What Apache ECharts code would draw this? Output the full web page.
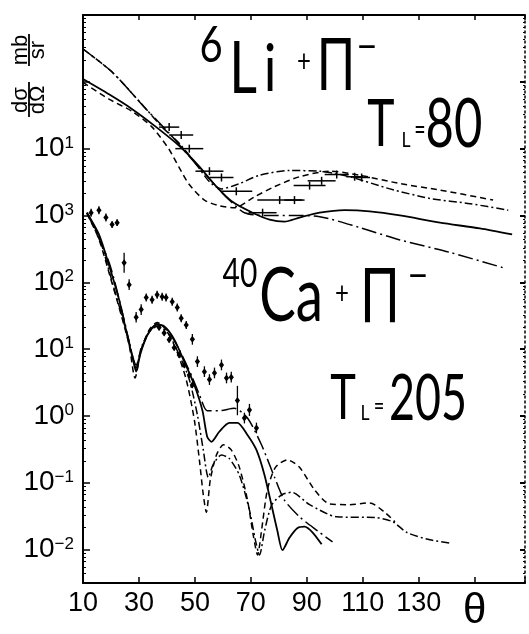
<!DOCTYPE html>
<html>
<head>
<meta charset="utf-8">
<script src="https://cdn.jsdelivr.net/npm/echarts@6/dist/echarts.min.js"></script>
<style>
  html, body { margin: 0; padding: 0; background: #fff; }
  #chart { width: 529px; height: 634px; }
</style>
</head>
<body>
<div id="chart"></div>
<script>
// the scan uses a tall, thin, condensed lettering
const FONT = 'Lato, "Liberation Sans", sans-serif'
const AXIS_FONT = '"Liberation Sans", Arial, sans-serif'

// axis ticks
const xTickLabels = [10, 30, 50, 70, 90, 110, 130]
const yTickExps = [4, 3, 2, 1, 0, -1, -2]
const yTickSup = ['1', '3', '2', '1', '0', '−1', '−2']  // as printed on the figure

// 6Li + pi-, T = 80  (theta, dsigma/dOmega)
const liSolid = [[10, 1.1e5], [19.3, 6.5e4], [27.6, 3.9e4], [36.2, 2.1e4], [44.4, 1.1e4], [51.6, 5.4e3], [57.7, 2.7e3], [63.4, 1.6e3], [70.6, 1.1e3], [76.7, 870], [82.0, 810], [87.4, 930], [94.6, 1.1e3], [103.5, 1.2e3], [112.5, 1.15e3], [123.3, 1.0e3], [137.6, 780], [151.9, 640], [163.4, 520]]
const liDash = [[10, 9.8e4], [19.3, 5.5e4], [27.6, 3.6e4], [34.7, 2.1e4], [40.8, 9.7e3], [44.4, 5.2e3], [48.0, 2.9e3], [53.4, 1.7e3], [58.7, 1.4e3], [64.1, 1.3e3], [71.3, 1.9e3], [78.5, 2.7e3], [87.4, 3.8e3], [98.2, 4.6e3], [108.9, 4.0e3], [123.3, 3.0e3], [137.6, 2.4e3], [156.6, 1.7e3]]
const liDashDot = [[10, 3.1e5], [20.4, 1.4e5], [32.6, 3.9e4], [38.3, 2.1e4], [44.4, 1.2e4], [50.5, 5.8e3], [55.2, 3.2e3], [59.5, 2.5e3], [65.9, 3.0e3], [73.1, 4.0e3], [83.8, 4.7e3], [94.6, 4.6e3], [105.3, 3.8e3], [119.7, 2.5e3], [134.0, 1.8e3], [148.4, 1.5e3], [162.0, 1.2e3]]
const liLongDashDot = [[10, 3.1e5], [20.4, 1.4e5], [32.6, 3.9e4], [40.8, 1.7e4], [50.5, 5.8e3], [57.0, 2.9e3], [62.3, 1.7e3], [67.7, 1.1e3], [74.9, 1.0e3], [83.8, 1.0e3], [94.6, 960], [108.9, 660], [123.3, 430], [141.2, 280], [160.2, 165]]
// data: theta, value, half width in degrees
const liPoints = [[40.8, 2.1e4, 3.6], [45.1, 1.6e4, 4.3], [48.0, 1.0e4, 5], [55.2, 4.6e3, 5], [59.5, 3.7e3, 4.3], [64.8, 2.3e3, 5.7], [74.2, 1.1e3, 5], [80.3, 1.7e3, 8], [85.6, 1.7e3, 3.6], [91.0, 2.8e3, 5.7], [95.3, 3.3e3, 5], [100.7, 4.1e3, 4.3], [107.1, 3.8e3, 3], [109.6, 3.7e3, 3]]

// 40Ca + pi-, T = 205
const caSolid = [[11.4, 1.1e3], [15.7, 520], [19.3, 180], [22.9, 55], [25.8, 16], [27.9, 6.9], [29.0, 4.6], [30.4, 8.2], [32.9, 16], [36.2, 23], [39.0, 22], [42.6, 14], [46.2, 6.5], [49.8, 2.9], [52.7, 1.2], [54.4, 0.49], [55.9, 0.41], [58.7, 0.58], [62.3, 0.79], [65.2, 0.79], [68.8, 0.52], [72.0, 0.31], [74.9, 0.13], [77.4, 0.046], [79.5, 0.019], [81.3, 0.0098], [83.8, 0.015], [86.7, 0.021], [89.2, 0.022], [92.1, 0.018], [95.3, 0.012]]
const caDash = [[11.4, 1.07e3], [15.7, 440], [20.0, 110], [23.6, 33], [26.5, 11.5], [28.6, 3.7], [30.8, 9.8], [33.7, 19.5], [36.5, 25], [39.7, 19.5], [43.3, 9.8], [46.9, 3.5], [49.8, 0.87], [51.6, 0.22], [53.0, 0.066], [54.1, 0.036], [55.5, 0.11], [57.7, 0.26], [60.2, 0.37], [63.0, 0.31], [65.9, 0.17], [68.8, 0.055], [70.9, 0.016], [72.4, 0.0083], [73.8, 0.019], [75.9, 0.078], [78.8, 0.17], [83.1, 0.22], [87.4, 0.17], [92.8, 0.078], [98.2, 0.048], [105.3, 0.047], [112.5, 0.05], [117.9, 0.036], [121.5, 0.026]]
const caDashDot = [[11.4, 1.1e3], [15.7, 480], [20.0, 118], [23.6, 35], [26.5, 13], [29.0, 5.2], [30.8, 10.5], [33.7, 18], [36.5, 22], [40.1, 18], [44.4, 8.2], [48.0, 3.5], [50.9, 1.03], [53.0, 0.31], [54.8, 0.12], [56.6, 0.19], [59.5, 0.26], [62.3, 0.23], [65.9, 0.13], [69.5, 0.039], [71.6, 0.014], [73.1, 0.0083], [74.9, 0.019], [77.4, 0.046], [81.0, 0.066], [84.6, 0.072], [91.0, 0.047], [100.7, 0.031], [115.0, 0.03], [120.8, 0.026], [125.8, 0.018], [134.0, 0.014], [141.2, 0.0125]]
const caLongDashDot = [[11.4, 1.1e3], [19.3, 200], [24.7, 27.5], [27.6, 8.2], [29.0, 5.8], [30.8, 9.8], [33.7, 18], [36.5, 24], [40.1, 19.5], [44.4, 9.8], [48.7, 4.1], [51.6, 2.1], [54.4, 1.2], [58.7, 1.2], [64.1, 1.3], [68.8, 0.93], [73.8, 0.37], [78.5, 0.12], [82.0, 0.055], [87.4, 0.031], [93.9, 0.019], [99.2, 0.013]]
// data: theta, value, error in decades
const caPoints = [[12.9, 1.1e3, 0.06], [15.7, 1.2e3, 0.06], [18.2, 930, 0.06], [20.4, 730, 0.05], [22.2, 780, 0.05], [24.7, 196, 0.15], [26.5, 92, 0.08], [29.0, 30, 0.08], [30.8, 39, 0.08], [32.6, 59, 0.06], [34.7, 55, 0.06], [36.5, 65, 0.06], [38.3, 61, 0.06], [39.7, 59, 0.06], [41.9, 51, 0.06], [43.7, 42, 0.06], [45.1, 29, 0.06], [46.9, 23, 0.06], [49.1, 14, 0.08], [50.9, 6.5, 0.08], [53.4, 4.6, 0.08], [55.2, 3.5, 0.08], [57.0, 4.4, 0.08], [59.5, 5.8, 0.08], [61.3, 3.7, 0.08], [63.0, 3.8, 0.08], [65.2, 1.7, 0.22], [67.7, 0.93, 0.08], [69.5, 1.23, 0.09], [72.0, 0.66, 0.08],
  [37.2, 21, 0.04], [39.0, 17.5, 0.04], [40.8, 13.8, 0.04], [42.6, 10.5, 0.04], [44.4, 8.2, 0.04], [46.2, 5.8, 0.04], [48.0, 4.1, 0.04], [49.1, 2.9, 0.04]]

const X_MIN = 10, X_MAX = 168
const Y_MIN = Math.pow(10, -2.5), Y_MAX = 1e6

const chart = echarts.init(document.getElementById('chart'), null, { renderer: 'canvas' })

function curve(data, dash, width) {
  return {
    type: 'line',
    data: data,
    xAxisIndex: 0,
    yAxisIndex: 0,
    showSymbol: false,
    smooth: 0.25,
    silent: true,
    lineStyle: { color: '#000', width: width || 1.5, type: dash }
  }
}

const DASH = [6, 4]
const DASH_DOT = [8, 3, 2, 3]
const LONG_DASH_DOT = [15, 4, 2, 4]

function txt(x, y, text, size, sx, weight) {
  return {
    type: 'text',
    x: x,
    y: y,
    scaleX: sx || 1,
    silent: true,
    style: {
      text: text,
      font: (weight || 400) + ' ' + size + 'px ' + FONT,
      fill: '#000',
      textAlign: 'center',
      textVerticalAlign: 'middle'
    }
  }
}

const axisBlack = { color: '#000', width: 2 }
const titleFont = '22px ' + AXIS_FONT

const option = {
  animation: false,
  backgroundColor: '#fff',
  grid: { left: 83, right: 4, top: 15, bottom: 51, containLabel: false },
  xAxis: [
    {
      type: 'value', min: X_MIN, max: X_MAX, interval: 20,
      axisLine: { lineStyle: axisBlack },
      axisTick: { inside: true, length: 6, lineStyle: { color: '#000', width: 1.5 } },
      splitLine: { show: false },
      axisLabel: {
        margin: 7,
        color: '#000',
        fontFamily: AXIS_FONT,
        fontSize: 27,
        formatter: function (v) {
          if (xTickLabels.indexOf(v) >= 0) return String(v)
          if (v === 150) return '{th|θ}'
          return ''
        },
        rich: { th: { fontSize: 42, fontFamily: AXIS_FONT, color: '#000' } }
      }
    },
    {
      type: 'value', min: X_MIN, max: X_MAX, interval: 20, position: 'top',
      axisLine: { lineStyle: axisBlack },
      axisTick: { inside: true, length: 5, lineStyle: { color: '#000', width: 1.5 } },
      axisLabel: { show: false },
      splitLine: { show: false }
    }
  ],
  yAxis: [
    {
      type: 'log', logBase: 10, min: Y_MIN, max: Y_MAX, splitNumber: 8,
      axisLine: { lineStyle: axisBlack },
      axisTick: { inside: true, length: 7, lineStyle: { color: '#000', width: 1.5 } },
      minorTick: { show: true, splitNumber: 8, length: 3, lineStyle: { color: '#000', width: 1 } },
      splitLine: { show: false },
      axisLabel: {
        margin: 9,
        formatter: function (v) {
          const lg = Math.log10(v)
          const e = Math.round(lg)
          if (Math.abs(lg - e) > 1e-6) return ''
          const i = yTickExps.indexOf(e)
          if (i < 0) return ''
          return '{b|10}{s|' + yTickSup[i] + '}'
        },
        rich: {
          b: { fontSize: 28, fontFamily: AXIS_FONT, color: '#000' },
          s: { fontSize: 17, fontFamily: AXIS_FONT, color: '#000', verticalAlign: 'top' }
        }
      }
    },
    {
      type: 'log', logBase: 10, min: Y_MIN, max: Y_MAX, splitNumber: 8, position: 'right',
      axisLine: { lineStyle: { color: '#000', width: 1.5, type: [2, 3] } },
      axisTick: { inside: true, length: 5, lineStyle: { color: '#000', width: 2 } },
      minorTick: { show: true, splitNumber: 8, length: 2, lineStyle: { color: '#000', width: 1 } },
      axisLabel: { show: false },
      splitLine: { show: false }
    }
  ],
  series: [
    curve(liSolid, 'solid', 1.8),
    curve(liDash, DASH),
    curve(liDashDot, DASH_DOT),
    curve(liLongDashDot, LONG_DASH_DOT),
    curve(caSolid, 'solid', 1.8),
    curve(caDash, DASH),
    curve(caDashDot, DASH_DOT),
    curve(caLongDashDot, LONG_DASH_DOT),
    {
      type: 'custom',
      data: liPoints,
      encode: { x: 0, y: 1 },
      silent: true,
      renderItem: function (params, api) {
        const x = api.value(0), y = api.value(1), e = api.value(2)
        const a = api.coord([x - e, y])
        const b = api.coord([x + e, y])
        const c = api.coord([x, y])
        const st = { stroke: '#000', lineWidth: 1.5 }
        return {
          type: 'group',
          children: [
            { type: 'line', shape: { x1: a[0], y1: a[1], x2: b[0], y2: b[1] }, style: st },
            { type: 'line', shape: { x1: c[0], y1: c[1] - 4, x2: c[0], y2: c[1] + 4 }, style: st }
          ]
        }
      }
    },
    {
      type: 'custom',
      data: caPoints,
      encode: { x: 0, y: 1 },
      silent: true,
      renderItem: function (params, api) {
        const x = api.value(0), y = api.value(1), e = api.value(2)
        const f = Math.pow(10, e)
        const top = api.coord([x, y * f])
        const bot = api.coord([x, y / f])
        const c = api.coord([x, y])
        return {
          type: 'group',
          children: [
            { type: 'line', shape: { x1: top[0], y1: top[1], x2: bot[0], y2: bot[1] }, style: { stroke: '#000', lineWidth: 1.3 } },
            {
              type: 'polygon',
              shape: { points: [[c[0], c[1] - 3.5], [c[0] + 2.6, c[1]], [c[0], c[1] + 3.5], [c[0] - 2.6, c[1]]] },
              style: { fill: '#000' }
            }
          ]
        }
      }
    }
  ],
  graphic: [
    // y axis title, rotated
    {
      type: 'group',
      x: 29,
      y: 118,
      rotation: Math.PI / 2,
      silent: true,
      children: [
        { type: 'text', x: 18, y: -8, style: { text: 'dσ', font: titleFont, fill: '#000', textAlign: 'center', textVerticalAlign: 'middle' } },
        { type: 'line', shape: { x1: 1, y1: 0, x2: 36, y2: 0 }, style: { stroke: '#000', lineWidth: 1.8 } },
        { type: 'text', x: 18, y: 9, style: { text: 'dΩ', font: titleFont, fill: '#000', textAlign: 'center', textVerticalAlign: 'middle' } },
        { type: 'text', x: 68, y: -8, style: { text: 'mb', font: titleFont, fill: '#000', textAlign: 'center', textVerticalAlign: 'middle' } },
        { type: 'line', shape: { x1: 52, y1: 0, x2: 84, y2: 0 }, style: { stroke: '#000', lineWidth: 1.8 } },
        { type: 'text', x: 68, y: 9, style: { text: 'sr', font: titleFont, fill: '#000', textAlign: 'center', textVerticalAlign: 'middle' } }
      ]
    },
    // 6Li + pi-
    txt(211, 46, '6', 50, 0.8),
    txt(243, 70, 'L', 72, 0.75),
    txt(270, 70, 'i', 66, 0.8),
    txt(304, 62, '+', 30, 0.8),
    txt(336, 67, 'Π', 72, 0.7),
    txt(367, 47, '−', 40, 0.9),
    // T_L = 80
    txt(381, 125, 'T', 66, 0.7),
    txt(406, 140, 'L', 22, 0.8),
    txt(420, 130, '=', 28, 0.7),
    txt(454, 125, '80', 68, 0.72),
    // 40Ca + pi-
    txt(240, 274, '40', 40, 0.75),
    txt(291, 296, 'Ca', 76, 0.72),
    txt(342, 294, '+', 30, 0.8),
    txt(380, 297, 'Π', 76, 0.68),
    txt(418, 276, '−', 40, 0.9),
    // T_L = 205
    txt(343, 399, 'T', 62, 0.7),
    txt(365, 413, 'L', 22, 0.8),
    txt(379, 407, '=', 26, 0.7),
    txt(428, 399, '205', 64, 0.7)
  ]
}

chart.setOption(option)
</script>
</body>
</html>
